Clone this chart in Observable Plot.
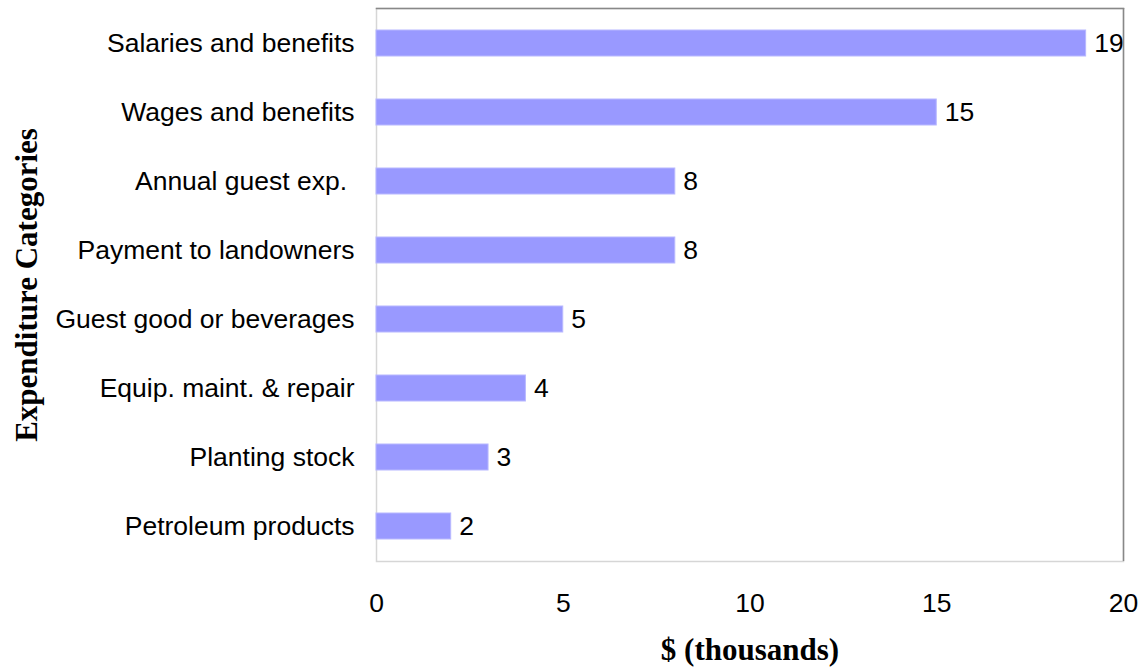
<!DOCTYPE html>
<html>
<head>
<meta charset="utf-8">
<script src="https://cdn.jsdelivr.net/npm/d3@7"></script>
<script src="https://cdn.jsdelivr.net/npm/@observablehq/plot@0.6"></script>
<style>
  html, body { margin: 0; padding: 0; background: #fff; }
</style>
</head>
<body>
<div id="chart"></div>
<script>
const categories = [
  "Salaries and benefits",
  "Wages and benefits",
  "Annual guest exp. ",
  "Payment to landowners",
  "Guest good or beverages",
  "Equip. maint. & repair",
  "Planting stock",
  "Petroleum products"
];
const values = [19, 15, 8, 8, 5, 4, 3, 2];
const xTicks = [0, 5, 10, 15, 20];
const xTitle = "$ (thousands)";
const yTitle = "Expenditure Categories";

const data = categories.map((c, i) => ({category: c, value: values[i]}));

const sans = "'Liberation Sans', Arial, sans-serif";
const serif = "'Liberation Serif', 'Times New Roman', serif";

const chart = Plot.plot({
  width: 1146,
  height: 669,
  marginLeft: 376,
  marginRight: 23,
  marginTop: 8,
  marginBottom: 108,
  style: {fontFamily: sans, fontSize: "26px", color: "#000", background: "#fff"},
  x: {domain: [0, 20]},
  y: {domain: categories, paddingInner: 0.63, paddingOuter: 0.315},
  marks: [
    Plot.frame({stroke: "#d6d6d6", strokeWidth: 1.5}),
    Plot.barX(data, {x: "value", y: "category", fill: "#9999ff", stroke: "#b8b8ff", strokeWidth: 1}),
    Plot.text(data, {x: "value", y: "category", text: d => String(d.value), textAnchor: "start", dx: 8, fontSize: 26.5, fill: "#000"}),
    Plot.ruleX([20], {stroke: "#888", strokeWidth: 1.5}),
    Plot.frame({anchor: "top", stroke: "#888", strokeWidth: 1.5}),
    Plot.axisX({ticks: xTicks, tickSize: 0, tickPadding: 32, label: null, fontSize: 26.5}),
    Plot.axisY({tickSize: 0, tickPadding: 22, label: null, fontSize: 26.5}),
    Plot.text([xTitle], {frameAnchor: "bottom", dy: 89, textAnchor: "middle", lineAnchor: "middle", fontFamily: serif, fontWeight: "bold", fontSize: 31, fill: "#000"}),
    Plot.text([yTitle], {frameAnchor: "left", dx: -349, rotate: -90, textAnchor: "middle", lineAnchor: "middle", fontFamily: serif, fontWeight: "bold", fontSize: 31, fill: "#000"})
  ]
});
document.getElementById("chart").appendChild(chart);
</script>
</body>
</html>
